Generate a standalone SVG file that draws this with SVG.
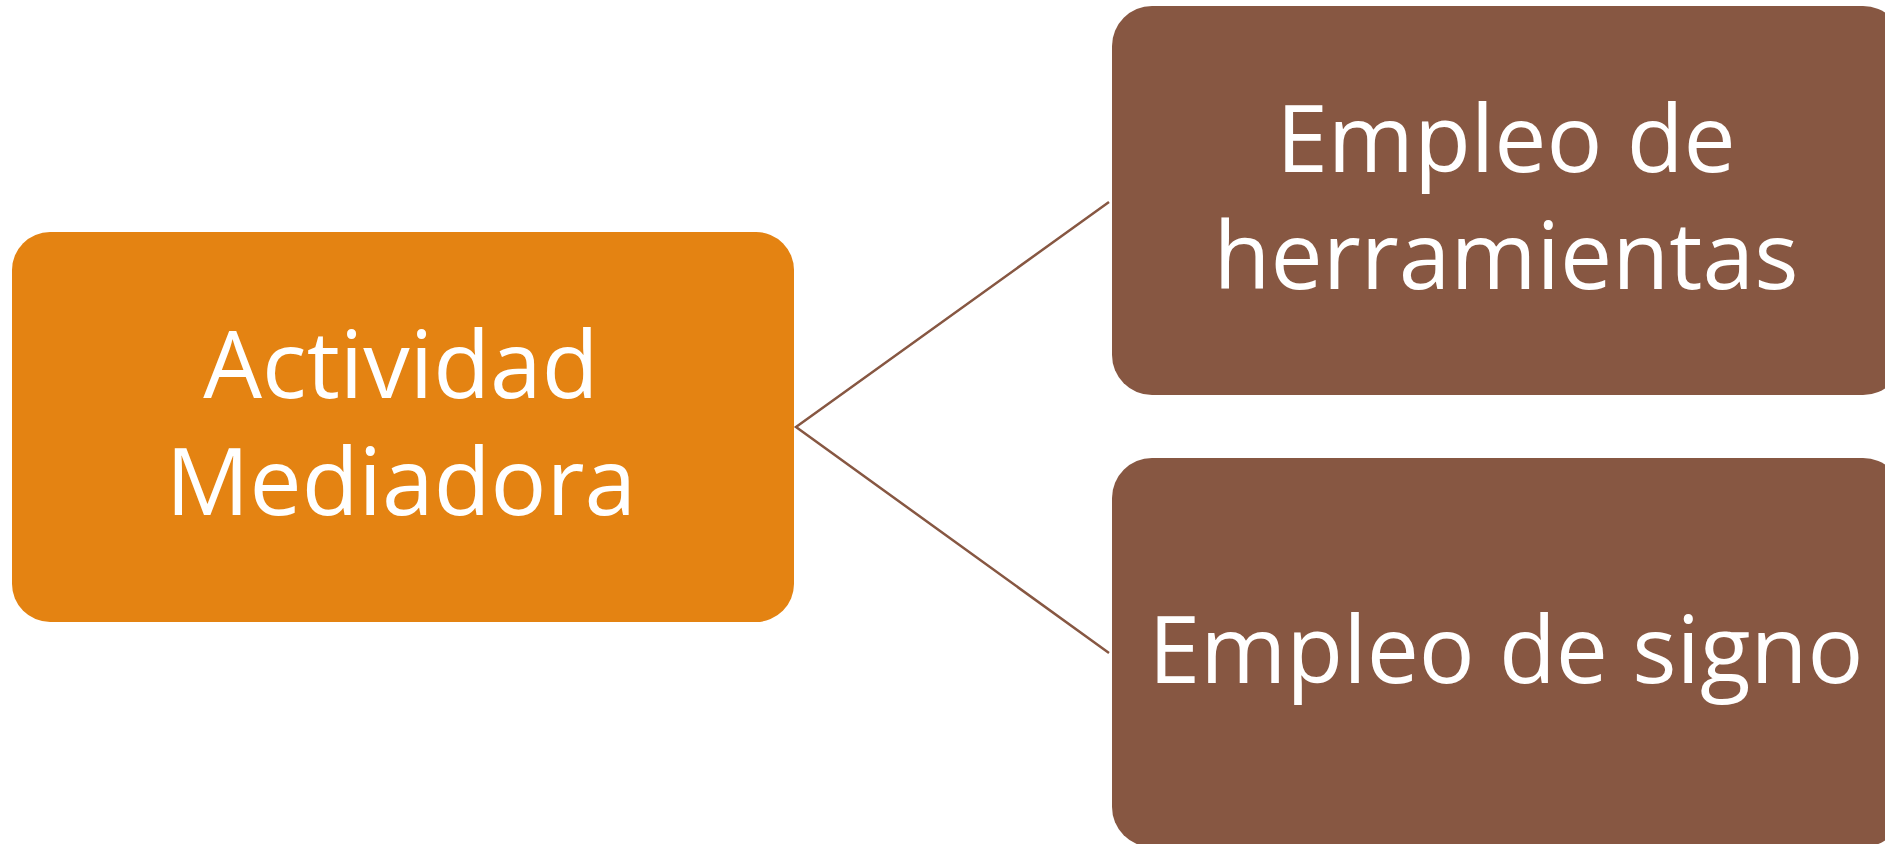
<svg xmlns="http://www.w3.org/2000/svg" width="1885" height="844" viewBox="0 0 1885 844">
<style>
.t{font-family:"Open Sans","Noto Sans","Liberation Sans",sans-serif;font-size:93px;fill:#ffffff;text-anchor:middle}
.c{fill:none;stroke:#875742;stroke-width:2.5}
</style>
<rect width="1885" height="844" fill="#ffffff"/>
<g id="connectors">
<polyline class="c" points="1109,202 796,427 1109,653"/>
</g>
<g id="node-actividad">
<rect x="12" y="232" width="782" height="390" rx="38" fill="#E48312"/>
<text class="t" x="401" y="398">Actividad</text>
<text class="t" x="401" y="515">Mediadora</text>
</g>
<g id="node-herramientas">
<rect x="1112" y="6" width="791" height="389" rx="40" fill="#875742"/>
<text class="t" x="1506" y="172">Empleo de</text>
<text class="t" x="1506" y="289">herramientas</text>
</g>
<g id="node-signo">
<rect x="1112" y="458" width="791" height="389" rx="40" fill="#875742"/>
<text class="t" x="1506" y="683">Empleo de signo</text>
</g>
</svg>
